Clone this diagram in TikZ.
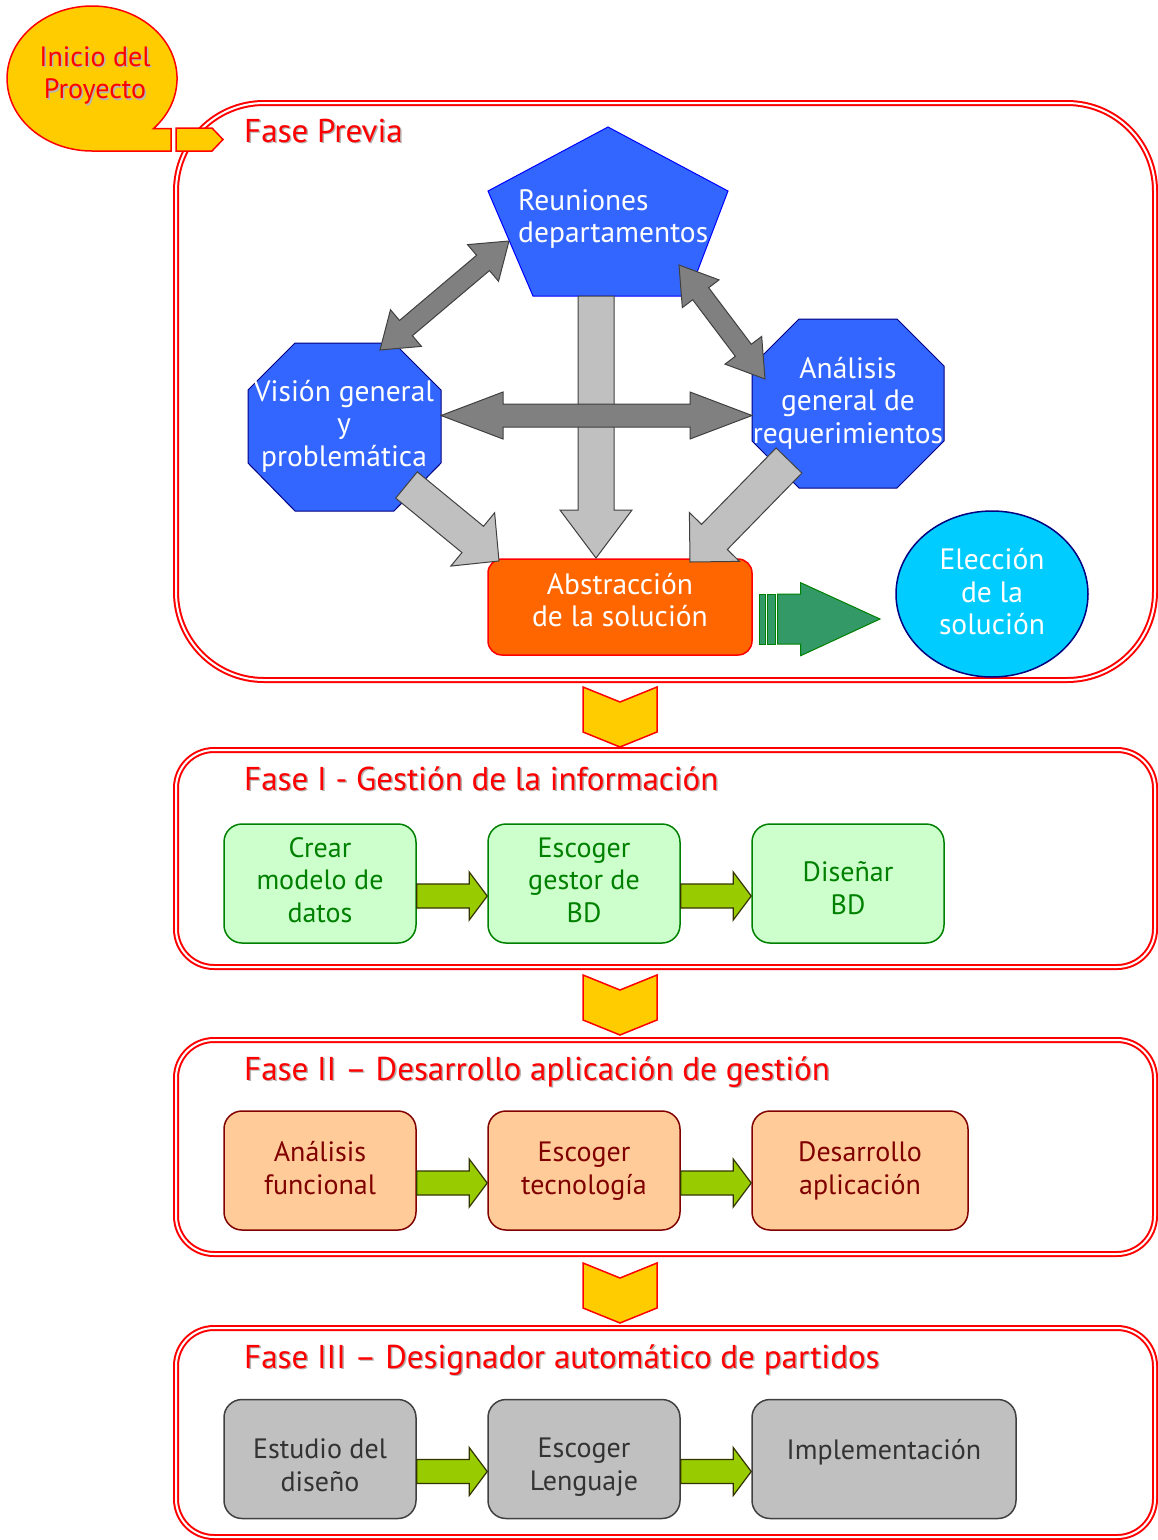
\documentclass[tikz,border=0pt]{standalone}
\usepackage{fontspec}
\setmainfont{PT Sans}
\usetikzlibrary{calc,shapes.geometric}
\definecolor{bluefill}{HTML}{3366FF}
\definecolor{navy}{HTML}{000080}
\definecolor{darkg}{HTML}{808080}
\definecolor{lightg}{HTML}{C0C0C0}
\definecolor{edgeg}{HTML}{404040}
\definecolor{gold}{HTML}{FFCC00}
\definecolor{orangef}{HTML}{FF6600}
\definecolor{cyanf}{HTML}{00CCFF}
\definecolor{seag}{HTML}{339966}
\definecolor{greenl}{HTML}{008000}
\definecolor{mint}{HTML}{CCFFCC}
\definecolor{peach}{HTML}{FFCC99}
\definecolor{maroon}{HTML}{800000}
\definecolor{greyf}{HTML}{C0C0C0}
\definecolor{greyt}{HTML}{333333}
\definecolor{lime}{HTML}{99CC00}
\definecolor{olive}{HTML}{333300}
\definecolor{shade}{HTML}{B4B4B4}

\newcommand\blockarrow[6]{%
  \path (#1) coordinate (bA) (#2) coordinate (bB);
  \path ($(bB)!#5!(bA)$) coordinate (bH);
  \draw[#6] ($(bA)!#3!90:(bB)$) -- ($(bH)!#3!-90:(bA)$) -- ($(bH)!#4!-90:(bA)$) -- (bB)
    -- ($(bH)!#4!90:(bA)$) -- ($(bH)!#3!90:(bA)$) -- ($(bA)!#3!-90:(bB)$) -- cycle;
}
\newcommand\dblarrow[6]{%
  \path (#1) coordinate (bA) (#2) coordinate (bB);
  \path ($(bB)!#5!(bA)$) coordinate (bH) ($(bA)!#5!(bB)$) coordinate (bG);
  \draw[#6] (bA) -- ($(bG)!#4!90:(bB)$) -- ($(bG)!#3!90:(bB)$) -- ($(bH)!#3!-90:(bA)$)
    -- ($(bH)!#4!-90:(bA)$) -- (bB) -- ($(bH)!#4!90:(bA)$) -- ($(bH)!#3!90:(bA)$)
    -- ($(bG)!#3!-90:(bB)$) -- ($(bG)!#4!-90:(bB)$) -- cycle;
}

\begin{document}
\begin{tikzpicture}[x=1pt,y=1pt,
  phaseframe/.style={draw=red, double=white, double distance=2pt, line width=2pt, rounded corners=#1},
  ttl/.style={font=\fontsize{33}{38}\selectfont, text=red, anchor=base west, inner sep=0pt},
  ttlshadow/.style={ttl, text=shade},
  btxt/.style={font=\fontsize{28}{32.5}\selectfont, align=center, inner sep=0pt},
  ttxt/.style={font=\fontsize{29.5}{32.5}\selectfont, align=center, inner sep=0pt, text=white},
  darkarrow/.style={fill=darkg, draw=edgeg, line width=1pt},
  lightarrow/.style={fill=lightg, draw=edgeg, line width=1pt},
  limearrow/.style={fill=lime, draw=olive, line width=1.2pt},
  chevron/.style={fill=gold, draw=red, line width=1.5pt},
  stepbox/.style={rounded corners=18pt, minimum width=192pt, minimum height=119pt, line width=1.5pt, inner sep=0pt},
  gbox/.style={stepbox, fill=mint, draw=greenl},
  obox/.style={stepbox, fill=peach, draw=maroon},
  sbox/.style={stepbox, fill=greyf, draw=edgeg},
]
\useasboundingbox (0,0) rectangle (1158,-1540);

% ---------- frames ----------
\draw[phaseframe=88pt] (176,-103) rectangle (1155,-680);
\draw[phaseframe=38pt] (176,-750) rectangle (1155,-967);
\draw[phaseframe=38pt] (176,-1040) rectangle (1155,-1254);
\draw[phaseframe=38pt] (176,-1328) rectangle (1155,-1537);

% ---------- callout ----------
\draw[fill=gold, draw=red, line width=1.5pt]
  (153.6,-128.5) arc[start angle=-43.6, end angle=270, x radius=85, y radius=72.5]
  -- (171,-151) -- (171,-128.5) -- cycle;
\draw[fill=gold, draw=red, line width=1.5pt]
  (176,-128) -- (212,-128) -- (223,-139.5) -- (212,-151) -- (176,-151) -- cycle;
\node[btxt, text=shade] (inicioS) at (96.5,-77) {Inicio del\\Proyecto};
\node[btxt, text=red] (inicio) at (95,-75.5) {Inicio del\\Proyecto};

% ---------- titles ----------
\node[ttlshadow] (t0s) at (245.5,-143.5) {Fase Previa};
\node[ttl] (t0) at (244,-142) {Fase Previa};
\node[ttlshadow] (t1s) at (245.5,-791.5) {Fase I - Gestión de la información};
\node[ttl] (t1) at (244,-790) {Fase I - Gestión de la información};
\node[ttlshadow] (t2s) at (245.5,-1081.5) {Fase II – Desarrollo aplicación de gestión};
\node[ttl] (t2) at (244,-1080) {Fase II – Desarrollo aplicación de gestión};
\node[ttlshadow] (t3s) at (245.5,-1369.5) {Fase III – Designador automático de partidos};
\node[ttl] (t3) at (244,-1368) {Fase III – Designador automático de partidos};

% ---------- Fase Previa shapes ----------
\draw[fill=bluefill, draw=blue, line width=1pt]
  (608,-127) -- (728,-191) -- (688,-296) -- (533,-296) -- (488,-191) -- cycle;
\node[ttxt, align=left, anchor=west] (reun) at (518,-219) {Reuniones\\departamentos};

\draw[fill=bluefill, draw=navy, line width=1pt]
  (295,-343) -- (394,-343) -- (441,-390) -- (441,-463) -- (394,-511) -- (295,-511) -- (248,-463) -- (248,-390) -- cycle;
\node[ttxt] (vision) at (344,-426) {Visión general\\y\\problemática};

\draw[fill=bluefill, draw=navy, line width=1pt]
  (799,-319) -- (897,-319) -- (944,-366) -- (944,-441) -- (897,-488) -- (799,-488) -- (752,-441) -- (752,-366) -- cycle;
\node[ttxt] (analisis) at (848,-403) {Análisis\\general de\\requerimientos};

\node[fill=orangef, draw=red, line width=1.5pt, rounded corners=14pt,
      minimum width=264pt, minimum height=96pt] (abst) at (620,-607) {};
\node[ttxt] (abstT) at (620,-600) {Abstracción\\de la solución};

\node[ellipse, fill=cyanf, draw=navy, line width=1.5pt, inner sep=0pt,
      minimum width=192pt, minimum height=166pt] (elec) at (992,-594) {};
\node[ttxt] (elecT) at (992,-592) {Elección\\de la\\solución};

% connector end points
\coordinate (dl1) at (380,-350); \coordinate (dl2) at (509,-241);
\coordinate (dr1) at (679,-265); \coordinate (dr2) at (765,-379);
\coordinate (hz1) at (441,-415.5); \coordinate (hz2) at (752,-415.5);
\coordinate (vt1) at (596,-296); \coordinate (vt2) at (596,-558);
\coordinate (dg1) at (406.5,-485); \coordinate (dg2) at (499,-561);
\coordinate (dh1) at (789,-460.5); \coordinate (dh2) at (690,-562);

\blockarrow{vt1}{vt2}{18pt}{36pt}{48pt}{lightarrow}
\dblarrow{hz1}{hz2}{11.5pt}{23.5pt}{62pt}{darkarrow}
\dblarrow{dl1}{dl2}{10pt}{24pt}{34pt}{darkarrow}
\dblarrow{dr1}{dr2}{10pt}{23pt}{36pt}{darkarrow}
\blockarrow{dg1}{dg2}{17pt}{34.5pt}{34pt}{lightarrow}
\blockarrow{dh1}{dh2}{18pt}{35pt}{35pt}{lightarrow}

% striped green arrow
\draw[fill=seag, draw=greenl, line width=1pt] (759,-594) rectangle (765,-644);
\draw[fill=seag, draw=greenl, line width=1pt] (767,-594) rectangle (775.5,-644);
\draw[fill=seag, draw=greenl, line width=1pt]
  (777.7,-594) -- (800.7,-594) -- (800.7,-582.7) -- (880,-619) -- (800.7,-655.7) -- (800.7,-644) -- (777.7,-644) -- cycle;

% ---------- chevrons ----------
\foreach \y in {687,975,1263}{
  \draw[chevron] (583,-\y) -- (620,-\y-15) -- (657,-\y) -- (657,-\y-45) -- (620,-\y-60) -- (583,-\y-45) -- cycle;
}

% ---------- Fase I ----------
\node[gbox] (b11) at (320,-883.5) {};
\node[gbox] (b12) at (584,-883.5) {};
\node[gbox] (b13) at (848,-883.5) {};
\node[btxt, text=greenl] (b11t) at (320,-880) {Crear\\modelo de\\datos};
\node[btxt, text=greenl] (b12t) at (584,-880) {Escoger\\gestor de\\BD};
\node[btxt, text=greenl] (b13t) at (848,-888) {Diseñar\\BD};
\blockarrow{$(b11.east)+(0,-12.5)$}{$(b12.west)+(0,-12.5)$}{12pt}{24pt}{18pt}{limearrow}
\blockarrow{$(b12.east)+(0,-12.5)$}{$(b13.west)+(0,-12.5)$}{12pt}{24pt}{18pt}{limearrow}

% ---------- Fase II ----------
\node[obox] (b21) at (320,-1170.5) {};
\node[obox] (b22) at (584,-1170.5) {};
\node[obox, minimum width=216pt] (b23) at (860,-1170.5) {};
\node[btxt, text=maroon] (b21t) at (320,-1168) {Análisis\\funcional};
\node[btxt, text=maroon] (b22t) at (584,-1171) {Escoger\\tecnología};
\node[btxt, text=maroon] (b23t) at (860,-1171) {Desarrollo\\aplicación};
\blockarrow{$(b21.east)+(0,-12.5)$}{$(b22.west)+(0,-12.5)$}{12pt}{24pt}{18pt}{limearrow}
\blockarrow{$(b22.east)+(0,-12.5)$}{$(b23.west)+(0,-12.5)$}{12pt}{24pt}{18pt}{limearrow}

% ---------- Fase III ----------
\node[sbox] (b31) at (320,-1459) {};
\node[sbox] (b32) at (584,-1459) {};
\node[sbox, minimum width=264pt] (b33) at (884,-1459) {};
\node[btxt, text=greyt] (b31t) at (320,-1465) {Estudio del\\diseño};
\node[btxt, text=greyt] (b32t) at (584,-1467) {Escoger\\Lenguaje};
\node[btxt, text=greyt] (b33t) at (884,-1452) {Implementación};
\blockarrow{$(b31.east)+(0,-12.5)$}{$(b32.west)+(0,-12.5)$}{12pt}{24pt}{18pt}{limearrow}
\blockarrow{$(b32.east)+(0,-12.5)$}{$(b33.west)+(0,-12.5)$}{12pt}{24pt}{18pt}{limearrow}
\end{tikzpicture}
\end{document}
